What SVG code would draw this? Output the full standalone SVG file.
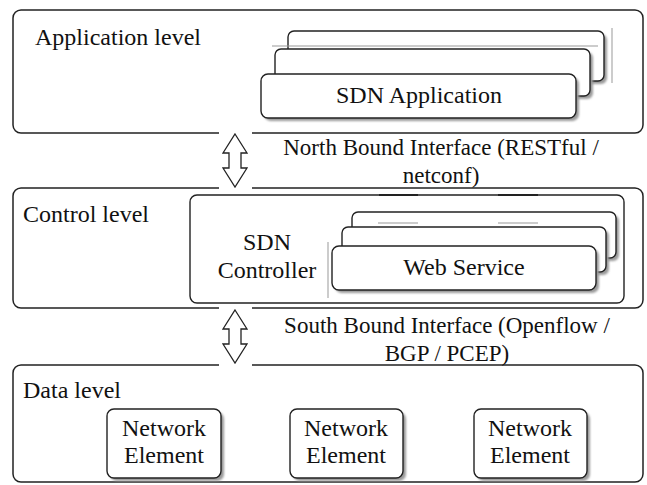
<svg xmlns="http://www.w3.org/2000/svg" width="647" height="485" viewBox="0 0 647 485">
  <defs>
    <filter id="soft" x="-10%" y="-10%" width="130%" height="130%">
      <feGaussianBlur stdDeviation="1"/>
    </filter>
    <style>
      text { font-family: "Liberation Serif", "Times New Roman", serif; font-size: 24px; fill: #111; }
      .mid { text-anchor: middle; }
      .iface { font-size: 23px; }
      .level { fill: #fff; stroke: #222; stroke-width: 1.5; }
      .card { fill: #fff; stroke: #222; stroke-width: 1.4; }
      .shadow { fill: #9a9a9a; filter: url(#soft); }
      .faint { stroke: #999; stroke-width: 1; fill: none; }
      .gap { fill: #fff; stroke: none; }
      .arrow { fill: #fff; stroke: #222; stroke-width: 1.3; stroke-linejoin: miter; }
    </style>
  </defs>

  <rect width="647" height="485" fill="#fff"/>

  <!-- Application level -->
  <g id="application-level">
    <rect class="level" x="13" y="10" width="630" height="123" rx="8"/>
    <text x="35" y="45">Application level</text>
  </g>

  <g id="sdn-application">
    <!-- back card -->
    <rect class="shadow" x="291" y="34" width="316" height="50" rx="6"/>
    <rect class="card" x="288" y="31" width="316" height="50" rx="6"/>
    <line class="faint" x1="272" y1="46" x2="598" y2="46"/>
    <line class="faint" x1="612" y1="28" x2="612" y2="83"/>
    <!-- middle card -->
    <rect class="shadow" x="278" y="52" width="315" height="47" rx="6"/>
    <rect class="card" x="275" y="49" width="315" height="47" rx="6"/>
    <!-- front card -->
    <rect class="shadow" x="264" y="77" width="315" height="44" rx="7"/>
    <rect class="card" x="261" y="74" width="315" height="44" rx="7"/>
    <text class="mid" x="419" y="103">SDN Application</text>
  </g>

  <!-- Control level -->
  <g id="control-level">
    <rect class="level" x="13" y="188" width="630" height="120" rx="8"/>
    <text x="23" y="222">Control level</text>
  </g>

  <g id="sdn-controller">
    <rect class="card" x="190" y="195" width="434" height="108" rx="7"/>
    <line x1="379" y1="195" x2="418" y2="195" stroke="#222" stroke-width="2.2"/>
    <line x1="498" y1="195" x2="538" y2="195" stroke="#222" stroke-width="2.2"/>
    <text class="mid" x="267" y="250">SDN</text>
    <text class="mid" x="267" y="278">Controller</text>
    <line class="faint" x1="328" y1="242" x2="328" y2="298"/>
  </g>

  <g id="web-service">
    <!-- back card -->
    <rect class="shadow" x="355" y="215" width="264" height="46" rx="6"/>
    <rect class="card" x="352" y="212" width="264" height="46" rx="6"/>
    <line class="faint" x1="378" y1="223" x2="418" y2="223"/>
    <line class="faint" x1="498" y1="223" x2="538" y2="223"/>
    <!-- middle card -->
    <rect class="shadow" x="345" y="230" width="264" height="45" rx="6"/>
    <rect class="card" x="342" y="227" width="264" height="45" rx="6"/>
    <!-- front card -->
    <rect class="shadow" x="335" y="249" width="264" height="44" rx="7"/>
    <rect class="card" x="332" y="246" width="264" height="44" rx="7"/>
    <text class="mid" x="464" y="275">Web Service</text>
  </g>

  <!-- Data level -->
  <g id="data-level">
    <rect class="level" x="13" y="365" width="630" height="117" rx="8"/>
    <text x="23" y="398">Data level</text>
  </g>

  <g id="network-element-1">
    <rect class="shadow" x="110" y="412" width="114" height="69" rx="7"/>
    <rect class="card" x="107" y="409" width="114" height="69" rx="7"/>
    <text class="mid" x="164" y="436">Network</text>
    <text class="mid" x="164" y="463">Element</text>
  </g>

  <g id="network-element-2">
    <rect class="shadow" x="293" y="412" width="113" height="69" rx="7"/>
    <rect class="card" x="290" y="409" width="113" height="69" rx="7"/>
    <text class="mid" x="346" y="436">Network</text>
    <text class="mid" x="346" y="463">Element</text>
  </g>

  <g id="network-element-3">
    <rect class="shadow" x="477" y="412" width="113" height="69" rx="7"/>
    <rect class="card" x="474" y="409" width="113" height="69" rx="7"/>
    <text class="mid" x="530" y="436">Network</text>
    <text class="mid" x="530" y="463">Element</text>
  </g>

  <!-- Interfaces between levels: hollow double arrows that break the box borders -->
  <g id="connectors">
    <rect class="gap" x="219" y="130" width="33" height="6"/>
    <rect class="gap" x="219" y="185" width="33" height="6"/>
    <path class="arrow" d="M235,134 L247,153 L241,153 L241,168 L247,168 L235,187 L223,168 L229,168 L229,153 L223,153 Z"/>
    <rect class="gap" x="219" y="305" width="33" height="6"/>
    <rect class="gap" x="219" y="362" width="33" height="6"/>
    <path class="arrow" d="M235,310 L247,329 L241,329 L241,344 L247,344 L235,363 L223,344 L229,344 L229,329 L223,329 Z"/>
  </g>

  <g id="north-bound-label">
    <text class="mid iface" x="441" y="155">North Bound Interface (RESTful /</text>
    <text class="mid iface" x="441" y="183">netconf)</text>
  </g>

  <g id="south-bound-label">
    <text class="mid iface" x="447" y="333">South Bound Interface (Openflow /</text>
    <text class="mid iface" x="447" y="361">BGP / PCEP)</text>
  </g>
</svg>
